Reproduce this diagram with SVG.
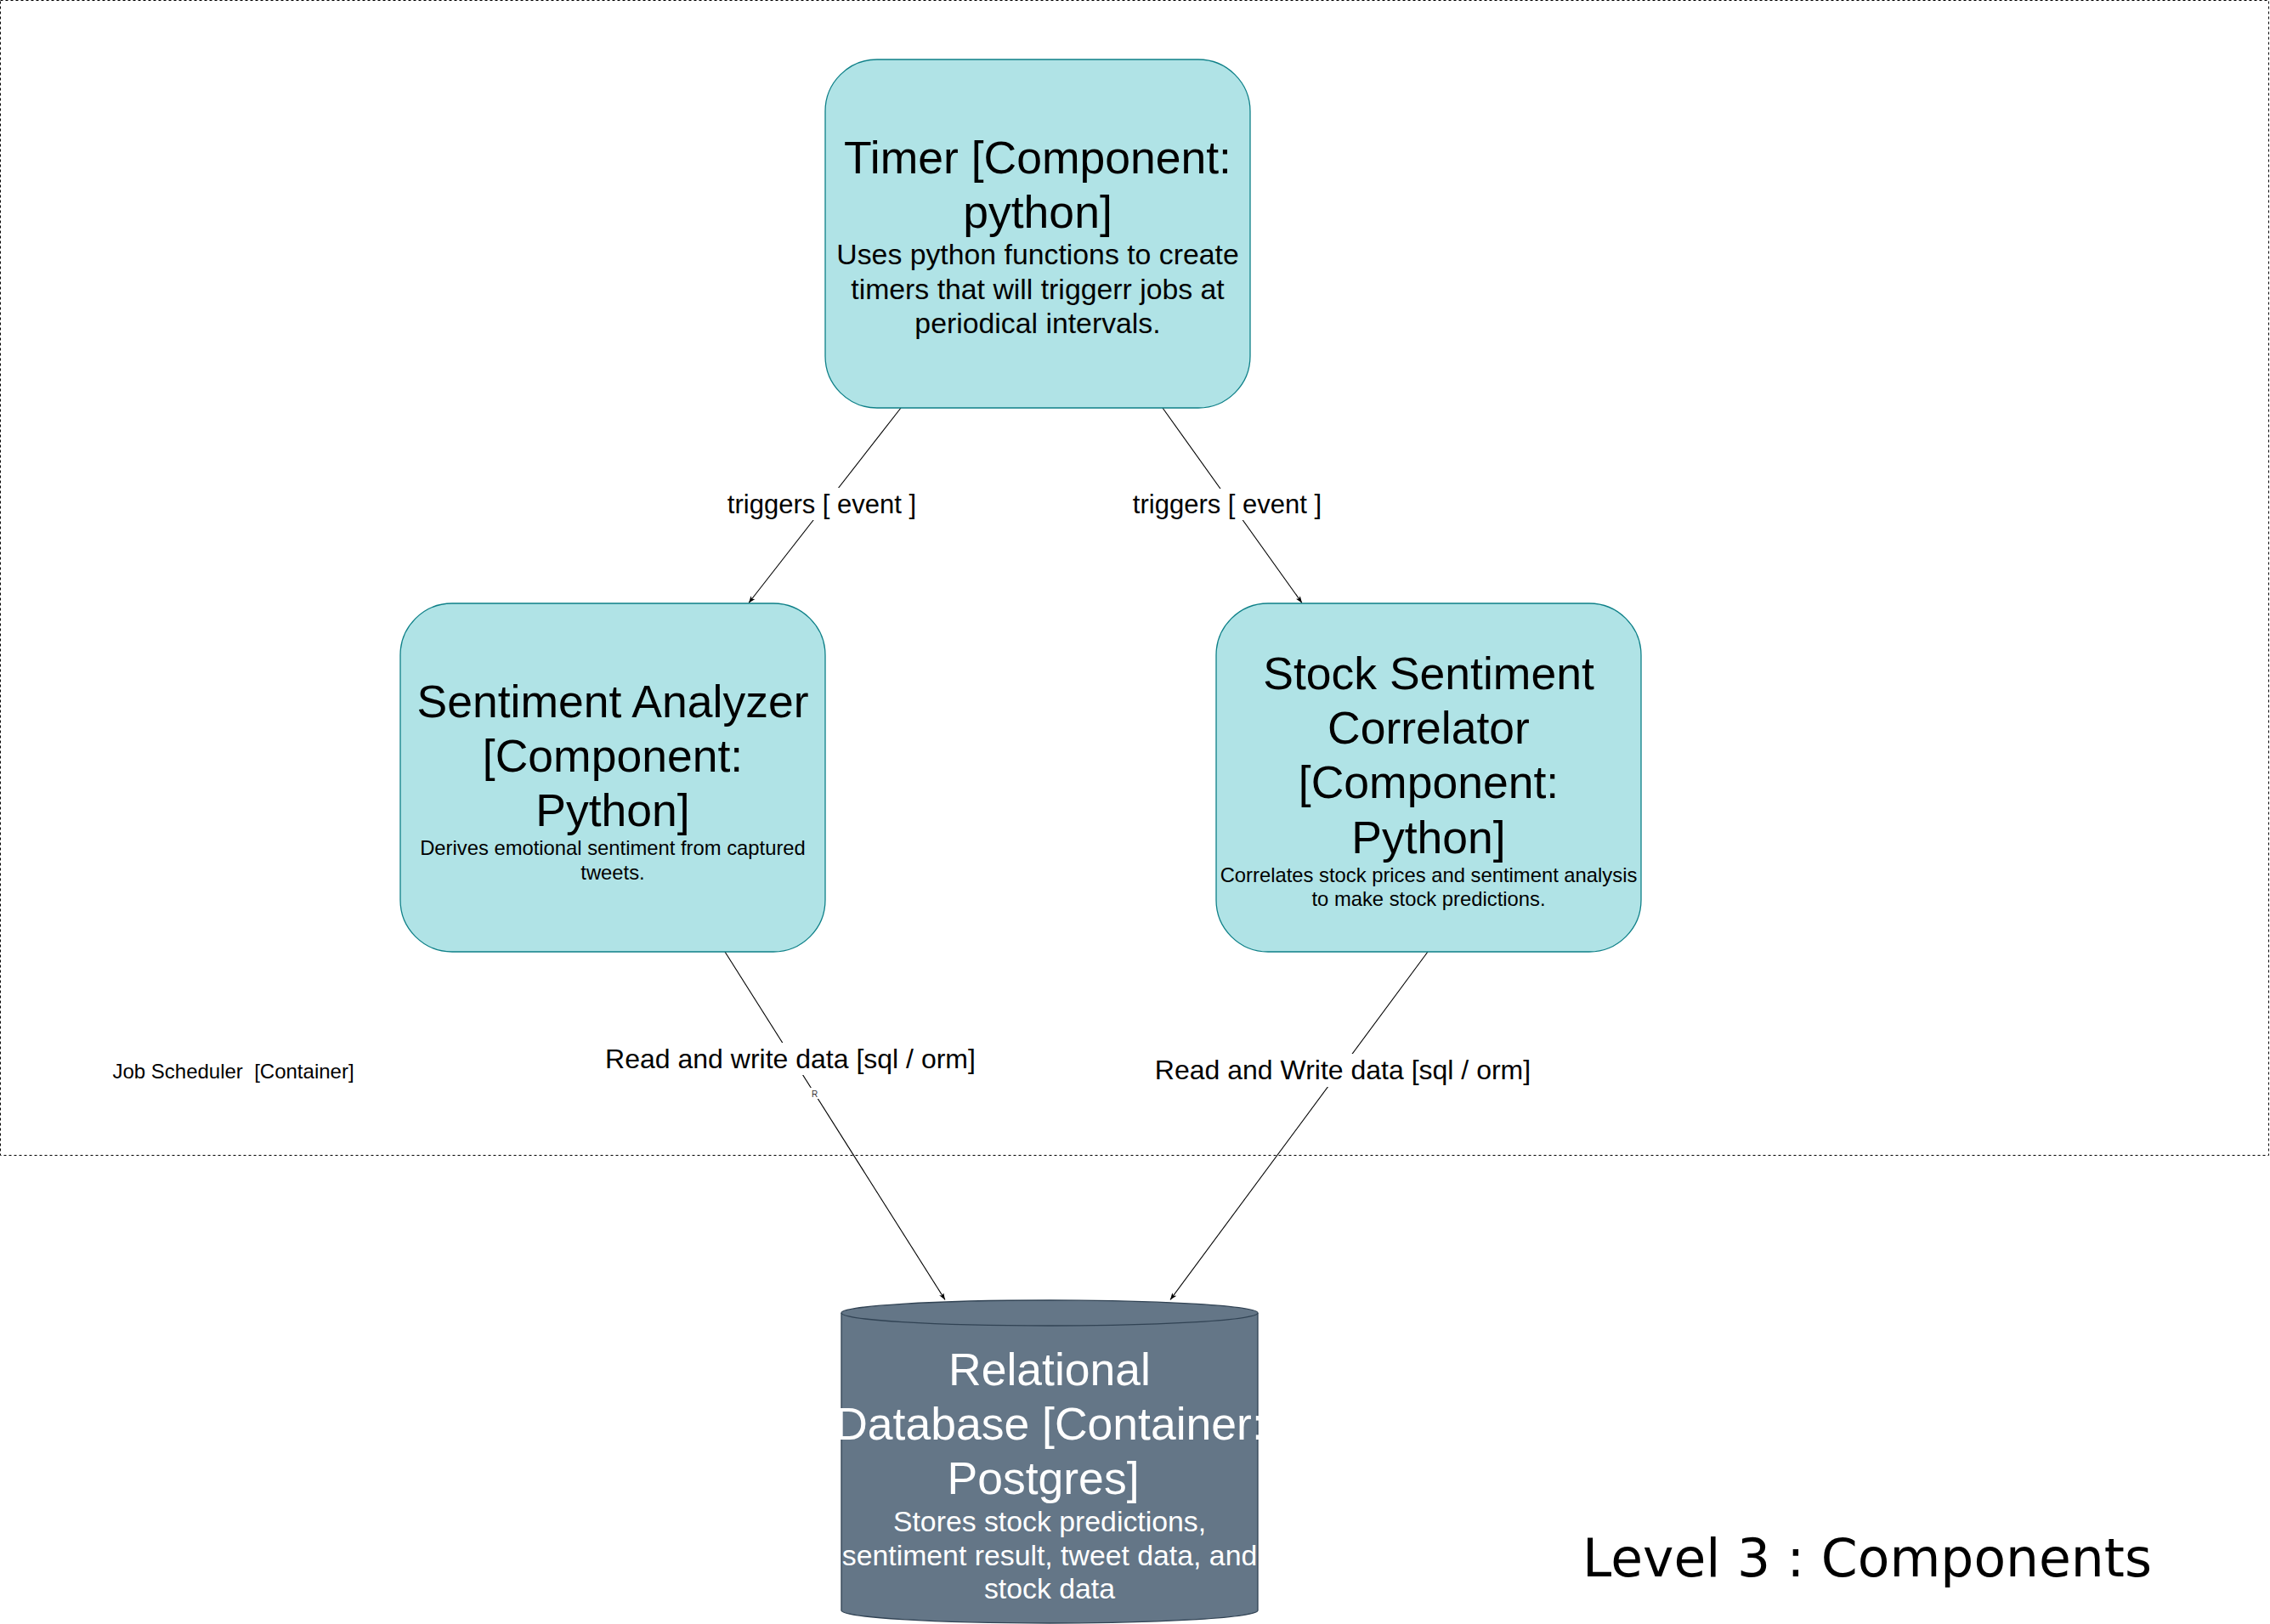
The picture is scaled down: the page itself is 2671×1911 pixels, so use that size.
<svg xmlns="http://www.w3.org/2000/svg" width="2671" height="1911" viewBox="0 0 2671 1911">
<style>
.bx{fill:#b0e3e6;stroke:#0e8088;stroke-width:1.3}
.db{fill:#647687;stroke:#314354;stroke-width:1.3}
.t{font-family:"Liberation Sans",Arial,sans-serif;text-anchor:middle}
.ti{font-size:53.5px;fill:#000}
.d1{font-size:33.8px;fill:#000}
.d2{font-size:23.8px;fill:#000}
.w{fill:#fff}
.ln{stroke:#000;stroke-width:1.1;fill:none}
.lb{fill:#fff}
.lt{font-family:"Liberation Sans",Arial,sans-serif;text-anchor:middle;fill:#000}
</style>
<defs>
<marker id="arr" viewBox="0 0 8 6" refX="8" refY="3" markerWidth="8" markerHeight="6" markerUnits="userSpaceOnUse" orient="auto">
<path d="M0,0 L8,3 L0,6 L2,3 Z" fill="#000"/>
</marker>
</defs>
<rect width="2671" height="1911" fill="#fff"/>
<g id="boundary">
<rect x="0.5" y="0.5" width="2669" height="1359" fill="none" stroke="#000" stroke-width="1" stroke-dasharray="3 3"/>
<text class="t" x="274.5" y="1269" style="font-size:24px;fill:#000">Job Scheduler&#160; [Container]</text>
</g>
<g id="connectors">
<line class="ln" x1="1060" y1="480" x2="881" y2="709.5" marker-end="url(#arr)"/>
<line class="ln" x1="1368" y1="480" x2="1532" y2="709.5" marker-end="url(#arr)"/>
<line class="ln" x1="853" y1="1120" x2="1112" y2="1529.5" marker-end="url(#arr)"/>
<line class="ln" x1="1680" y1="1120" x2="1377" y2="1529.5" marker-end="url(#arr)"/>
<rect class="lb" x="856" y="574" width="222" height="38"/>
<text class="lt" x="967" y="604" style="font-size:31px">triggers [ event ]</text>
<rect class="lb" x="1333" y="575" width="222" height="37"/>
<text class="lt" x="1444" y="604" style="font-size:31px">triggers [ event ]</text>
<rect class="lb" x="713" y="1227" width="434" height="38"/>
<text class="lt" x="930" y="1257" style="font-size:32px">Read and write data [sql / orm]</text>
<rect class="lb" x="953" y="1280" width="11" height="13"/>
<text class="lt" x="958.5" y="1290.5" style="font-size:10px;fill:#333">R</text>
<rect class="lb" x="1359" y="1240" width="442" height="39"/>
<text class="lt" x="1580" y="1270" style="font-size:32px">Read and Write data [sql / orm]</text>
</g>
<g id="timer">
<rect class="bx" x="971" y="70" width="500" height="410" rx="61" ry="61"/>
<text class="t ti" x="1221" y="204">Timer [Component:</text>
<text class="t ti" x="1221" y="268">python]</text>
<text class="t d1" x="1221" y="311">Uses python functions to create</text>
<text class="t d1" x="1221" y="351.5">timers that will triggerr jobs at</text>
<text class="t d1" x="1221" y="392">periodical intervals.</text>
</g>
<g id="sentiment-analyzer">
<rect class="bx" x="471" y="710" width="500" height="410" rx="61" ry="61"/>
<text class="t ti" x="721" y="844">Sentiment Analyzer</text>
<text class="t ti" x="721" y="908">[Component:</text>
<text class="t ti" x="721" y="972">Python]</text>
<text class="t d2" x="721" y="1006">Derives emotional sentiment from captured</text>
<text class="t d2" x="721" y="1034.5">tweets.</text>
</g>
<g id="stock-sentiment-correlator">
<rect class="bx" x="1431" y="710" width="500" height="410" rx="61" ry="61"/>
<text class="t ti" x="1681" y="811">Stock Sentiment</text>
<text class="t ti" x="1681" y="875">Correlator</text>
<text class="t ti" x="1681" y="939">[Component:</text>
<text class="t ti" x="1681" y="1003.5">Python]</text>
<text class="t d2" x="1681" y="1038">Correlates stock prices and sentiment analysis</text>
<text class="t d2" x="1681" y="1066">to make stock predictions.</text>
</g>
<g id="relational-database">
<path class="db" d="M990,1545 A245,15 0 0 1 1480,1545 V1895 A245,15 0 0 1 990,1895 Z"/>
<path class="db" d="M990,1545 A245,15 0 0 0 1480,1545" fill="none"/>
<text class="t ti w" x="1235" y="1630">Relational</text>
<text class="t ti w" x="1235" y="1694">Database [Container:</text>
<text class="t ti w" x="1227.5" y="1758">Postgres]</text>
<text class="t d1 w" x="1235" y="1802">Stores stock predictions,</text>
<text class="t d1 w" x="1235" y="1842">sentiment result, tweet data, and</text>
<text class="t d1 w" x="1235" y="1881">stock data</text>
</g>
<g id="title">
<text x="2197" y="1855" style="font-family:'DejaVu Sans',sans-serif;font-size:61.5px;text-anchor:middle;fill:#000">Level 3 : Components</text>
</g>
</svg>
